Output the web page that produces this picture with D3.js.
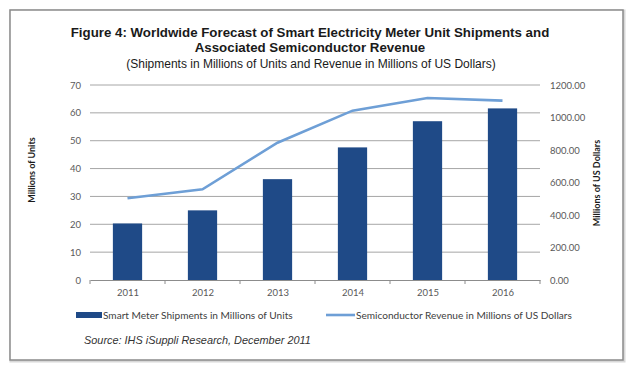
<!DOCTYPE html>
<html><head><meta charset="utf-8">
<script src="https://cdn.jsdelivr.net/npm/d3@7"></script>
<style>body{margin:0;background:#fff}svg{display:block}</style>
</head><body>
<svg id="c" width="642" height="369"></svg>
<script>
const years = ["2011","2012","2013","2014","2015","2016"];
const shipments = [20.3, 25.0, 36.2, 47.6, 57.0, 61.6];
const revenue = [503, 558, 845, 1042, 1120, 1104];
const leftTicks = [0,10,20,30,40,50,60,70];
const rightTicks = [0,200,400,600,800,1000,1200];
const titleLines = ["Figure 4: Worldwide Forecast of Smart Electricity Meter Unit Shipments and","Associated Semiconductor Revenue"];
const subtitle = "(Shipments in Millions of Units and Revenue in Millions of US Dollars)";
const seriesNames = ["Smart Meter Shipments in Millions of Units","Semiconductor Revenue in Millions of US Dollars"];
const source = "Source: IHS iSuppli Research, December 2011";

const svg = d3.select("#c");
const L=90, R=540, T=85, B=280;
const barColor="#1f4a87", lineColor="#6e9fd6", txt="#595959";
const calib="Lato, 'Open Sans', sans-serif";

// frame
svg.append("rect").attr("x",11).attr("y",11).attr("width",613).attr("height",350)
  .attr("fill","none").attr("stroke","#d8d8d8").attr("stroke-width",3);
svg.append("rect").attr("x",10).attr("y",10).attr("width",613).attr("height",350)
  .attr("fill","#fff").attr("stroke","#8a8a8a").attr("stroke-width",1.5);

// titles
svg.selectAll(".t").data(titleLines).enter().append("text")
  .attr("x",310).attr("y",(d,i)=>37+i*15).attr("text-anchor","middle")
  .attr("font-family","'Liberation Sans', Arial, sans-serif").attr("font-weight","bold")
  .attr("font-size",13.3).attr("fill","#1a1a1a").text(d=>d);
svg.append("text").attr("x",311).attr("y",68).attr("text-anchor","middle")
  .attr("font-family","'Liberation Sans', Arial, sans-serif").attr("font-size",12)
  .attr("fill","#1a1a1a").text(subtitle);

const x = d3.scaleBand().domain(years).range([L,R]).paddingInner(0.61).paddingOuter(0.305);
const xc = d3.scalePoint().domain(years).range([L,R]).padding(0.5);
const yL = d3.scaleLinear().domain([0,70]).range([B,T]);
const yR = d3.scaleLinear().domain([0,1200]).range([B,T]);

// gridlines
svg.append("g").selectAll("line").data(leftTicks.slice(1)).enter().append("line")
  .attr("x1",L).attr("x2",R).attr("y1",d=>yL(d)).attr("y2",d=>yL(d))
  .attr("stroke","#a6a6a6").attr("stroke-width",1);

// left axis labels
const gl = svg.append("g").attr("transform",`translate(${L},0)`)
  .call(d3.axisLeft(yL).tickValues(leftTicks).tickSize(0).tickPadding(9));
gl.select(".domain").remove();
gl.selectAll("text").attr("font-family",calib).attr("font-size",9.5).attr("fill",txt);

const gr = svg.append("g").attr("transform",`translate(${R},0)`)
  .call(d3.axisRight(yR).tickValues(rightTicks).tickSize(0).tickPadding(10).tickFormat(d3.format(".2f")));
gr.select(".domain").remove();
gr.selectAll("text").attr("font-family",calib).attr("font-size",9.5).attr("fill",txt);

// bars
svg.append("g").selectAll("rect").data(shipments).enter().append("rect")
  .attr("x",(d,i)=>x(years[i])).attr("width",x.bandwidth())
  .attr("y",d=>yL(d)).attr("height",d=>B-yL(d)).attr("fill",barColor);

// x axis
const gx = svg.append("g").attr("transform",`translate(0,${B})`)
  .call(d3.axisBottom(xc).tickSize(0).tickPadding(9));
gx.select(".domain").attr("stroke","#8c8c8c");
gx.selectAll("text").attr("font-family",calib).attr("font-size",9.5).attr("fill",txt);
const step = (R-L)/years.length;
svg.append("g").selectAll("line").data(d3.range(years.length+1)).enter().append("line")
  .attr("x1",i=>L+i*step).attr("x2",i=>L+i*step).attr("y1",B).attr("y2",B+4)
  .attr("stroke","#8c8c8c");

// line
svg.append("path").datum(revenue)
  .attr("d",d3.line().x((d,i)=>xc(years[i])).y(d=>yR(d)))
  .attr("fill","none").attr("stroke",lineColor).attr("stroke-width",2.6);

// axis titles
svg.append("text").attr("transform","translate(35,170) rotate(-90)").attr("text-anchor","middle")
  .attr("font-family",calib).attr("font-weight","bold").attr("font-size",9).attr("fill","#1a1a1a")
  .text("Millions of Units");
svg.append("text").attr("transform","translate(600,183) rotate(-90)").attr("text-anchor","middle")
  .attr("font-family",calib).attr("font-weight","bold").attr("font-size",9).attr("fill","#1a1a1a")
  .text("Millions of US Dollars");

// legend
svg.append("rect").attr("x",76).attr("y",312).attr("width",26).attr("height",6).attr("fill",barColor);
svg.append("text").attr("x",103).attr("y",318.5).attr("font-family",calib).attr("font-size",10.1)
  .attr("fill","#404040").text(seriesNames[0]);
svg.append("line").attr("x1",326).attr("x2",355).attr("y1",315).attr("y2",315)
  .attr("stroke",lineColor).attr("stroke-width",2.6);
svg.append("text").attr("x",356).attr("y",318.5).attr("font-family",calib).attr("font-size",10.1)
  .attr("fill","#404040").text(seriesNames[1]);

// source
svg.append("text").attr("x",84).attr("y",344).attr("font-family","'Liberation Sans', Arial, sans-serif")
  .attr("font-style","italic").attr("font-size",10.9).attr("fill","#333").text(source);
</script>
</body></html>
